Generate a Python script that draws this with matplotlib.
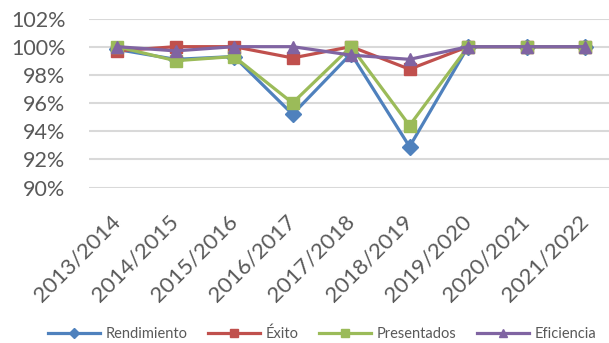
import matplotlib.pyplot as plt
from matplotlib.ticker import FuncFormatter

cursos = ["2013/2014", "2014/2015", "2015/2016", "2016/2017", "2017/2018",
          "2018/2019", "2019/2020", "2020/2021", "2021/2022"]
rendimiento = [99.8, 99.1, 99.3, 95.2, 99.5, 92.9, 100, 100, 100]
exito = [99.7, 100, 100, 99.2, 100, 98.4, 100, 100, 100]
presentados = [100, 99.0, 99.3, 96.0, 100, 94.4, 100, 100, 100]
eficiencia = [100, 99.7, 100, 100, 99.4, 99.1, 100, 100, 100]

series = [
    ("Rendimiento", rendimiento, "#4F81BD", "D", 8.5),
    ("Éxito", exito, "#C0504D", "s", 8.5),
    ("Presentados", presentados, "#9BBB59", "s", 8.5),
    ("Eficiencia", eficiencia, "#8064A2", "^", 9),
]

plt.rcParams["font.family"] = ["Lato", "DejaVu Sans"]
texto = "#595959"

fig = plt.figure(figsize=(6.09, 3.43), dpi=100)
ax = fig.add_axes([89 / 609, 155.5 / 343, 520 / 609, 169 / 343])

x = list(range(len(cursos)))
for nombre, valores, color, marca, tam in series:
    ax.plot(x, valores, color=color, lw=2.3, marker=marca, ms=tam,
            label=nombre, clip_on=False)

ax.set_ylim(90, 102)
ax.set_yticks(range(90, 103, 2))
ax.yaxis.set_major_formatter(FuncFormatter(lambda v, _: f"{v:.0f}%"))
ax.set_xlim(-0.48, 8.41)
ax.set_xticks(x)
ax.set_xticklabels(cursos, rotation=45, ha="right", va="center",
                   rotation_mode="anchor")
ax.grid(axis="y", color="#D9D9D9", lw=1.5)
ax.set_axisbelow(True)
for lado in ax.spines.values():
    lado.set_visible(False)
ax.tick_params(length=0, colors=texto)
ax.tick_params(axis="y", labelsize=15.5, pad=17)
ax.tick_params(axis="x", labelsize=16, pad=22)

fig.legend(loc="center", bbox_to_anchor=(322 / 609, 1 - 334 / 343), ncol=4,
           frameon=False, fontsize=10.5, labelcolor=texto, handlelength=3.6,
           markerscale=0.65, columnspacing=1.4, handletextpad=0.35)

fig.savefig("out.png", dpi=100)
